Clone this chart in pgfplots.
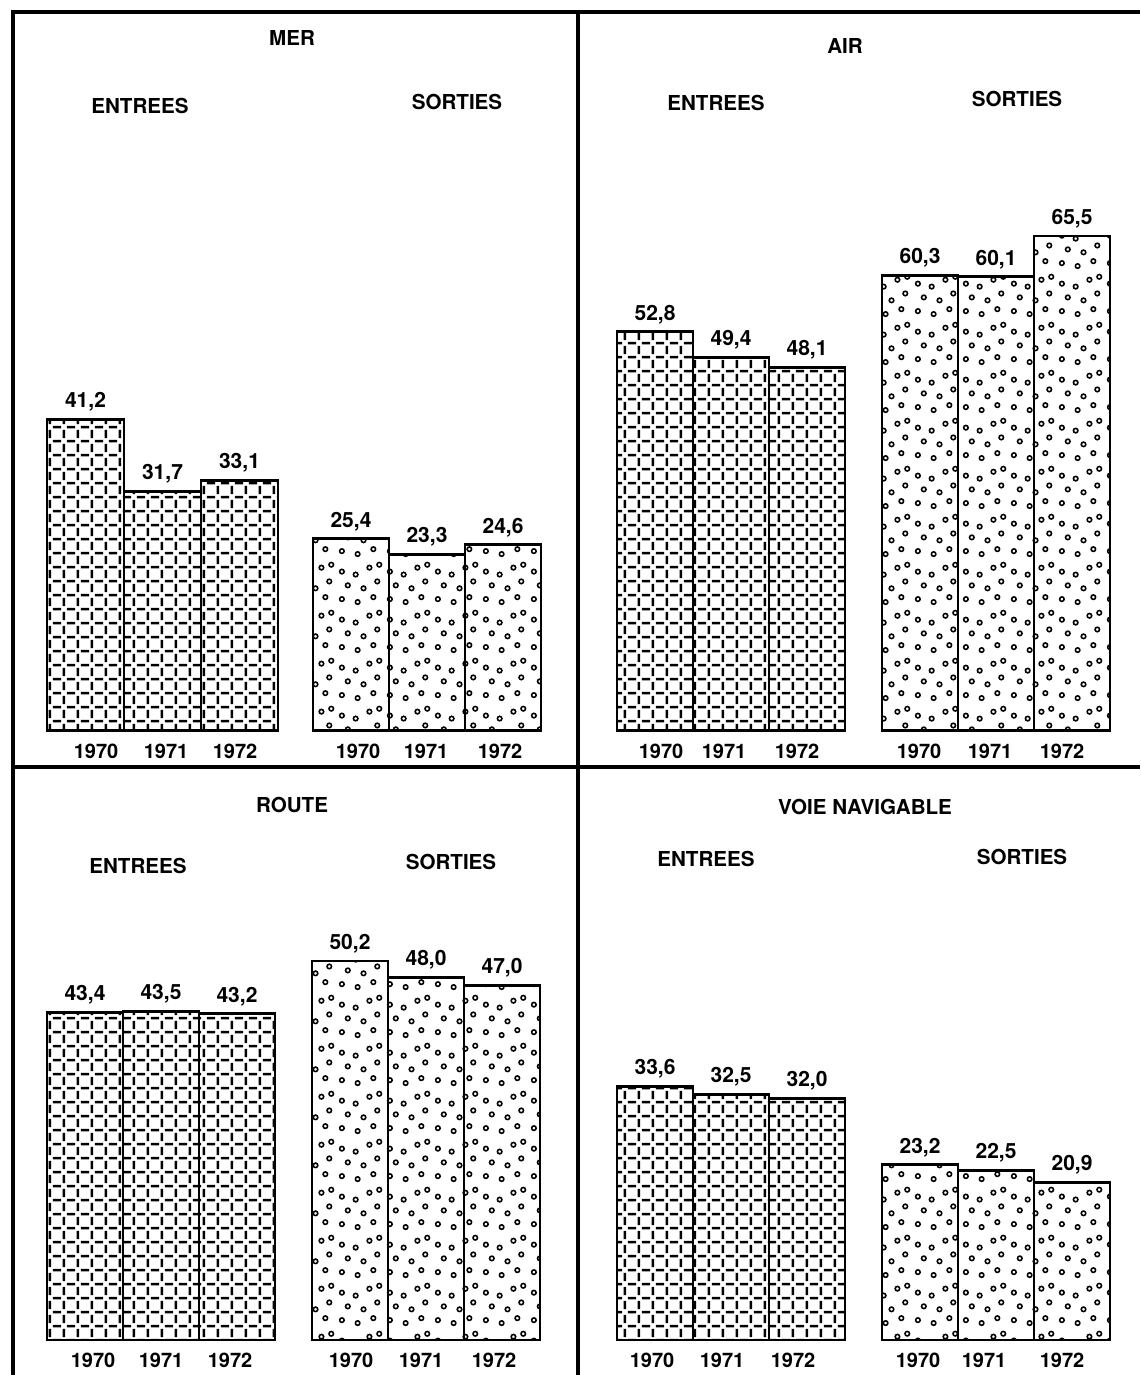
\documentclass[border=0pt]{standalone}
\usepackage{fontspec}
\setmainfont{TeX Gyre Heros}
\usepackage{pgfplots}
\pgfplotsset{compat=1.18}
\usetikzlibrary{patterns}

\pgfdeclarepatternformonly{dashgrid}{\pgfpointorigin}{\pgfpoint{7.2pt}{7.2pt}}{\pgfpoint{7.2pt}{7.2pt}}{%
  \pgfsetlinewidth{1.35pt}%
  \pgfpathmoveto{\pgfpoint{0pt}{3.6pt}}\pgfpathlineto{\pgfpoint{2.1pt}{3.6pt}}%
  \pgfpathmoveto{\pgfpoint{5.1pt}{3.6pt}}\pgfpathlineto{\pgfpoint{7.2pt}{3.6pt}}%
  \pgfpathmoveto{\pgfpoint{3.6pt}{0pt}}\pgfpathlineto{\pgfpoint{3.6pt}{2.1pt}}%
  \pgfpathmoveto{\pgfpoint{3.6pt}{5.1pt}}\pgfpathlineto{\pgfpoint{3.6pt}{7.2pt}}%
  \pgfusepath{stroke}%
}

\pgfdeclarepatternformonly{rings}{\pgfpointorigin}{\pgfpoint{24pt}{24pt}}{\pgfpoint{24pt}{24pt}}{%
  \pgfsetlinewidth{0.8pt}%
  \pgfpathcircle{\pgfpoint{3pt}{4pt}}{1.15pt}%
  \pgfpathcircle{\pgfpoint{11pt}{2.5pt}}{1.15pt}%
  \pgfpathcircle{\pgfpoint{19pt}{5pt}}{1.15pt}%
  \pgfpathcircle{\pgfpoint{6pt}{11pt}}{1.15pt}%
  \pgfpathcircle{\pgfpoint{14pt}{9.5pt}}{1.15pt}%
  \pgfpathcircle{\pgfpoint{21pt}{13pt}}{1.15pt}%
  \pgfpathcircle{\pgfpoint{3pt}{18pt}}{1.15pt}%
  \pgfpathcircle{\pgfpoint{10pt}{16.5pt}}{1.15pt}%
  \pgfpathcircle{\pgfpoint{17pt}{20pt}}{1.15pt}%
  \pgfpathcircle{\pgfpoint{22pt}{21.5pt}}{1.15pt}%
  \pgfusepath{stroke}%
}

\pgfplotsset{
  panel/.style={
    x=0.5pt, y=3.775pt,
    xmin=0, xmax=1140, ymin=0, ymax=80,
    anchor=south west, clip=false,
    axis line style={draw=none},
    major tick length=0pt,
    ytick=\empty,
    xticklabel style={font=\fontsize{10}{12}\selectfont\bfseries, yshift=-3pt},
    /pgf/number format/.cd, fixed, fixed zerofill, precision=1, use comma, assume math mode=true,
    /pgfplots/.cd,
    every node near coord/.append style={font=\fontsize{10.5}{12}\selectfont\bfseries},
  },
  ent/.style={ybar, bar shift=0pt, bar width=76, draw=black, line width=1.4pt, pattern=dashgrid, nodes near coords},
  sor/.style={ybar, bar shift=0pt, bar width=76, draw=black, line width=1.4pt, pattern=rings, nodes near coords},
}

\begin{document}
\begin{tikzpicture}
\useasboundingbox (0,0) rectangle (570pt,-687.5pt);

% frame
\draw[line width=1.8pt] (570pt,-6pt) -- (6.5pt,-6pt) -- (6.5pt,-687.5pt);
\draw[line width=1.8pt] (289pt,-6pt) -- (289pt,-687.5pt);
\draw[line width=1.8pt] (6.5pt,-383.5pt) -- (570pt,-383.5pt);

% titles and group labels
\begin{scope}[every node/.style={font=\fontsize{10.3}{12}\selectfont\bfseries, inner sep=0pt}]
\node at (146pt,-19pt) {MER};
\node at (422.5pt,-23pt) {AIR};
\node at (70pt,-53pt) {ENTREES};
\node at (228.5pt,-51pt) {SORTIES};
\node at (358pt,-51.5pt) {ENTREES};
\node at (508.5pt,-49.5pt) {SORTIES};
\node at (146pt,-402.5pt) {ROUTE};
\node at (432.5pt,-403.5pt) {VOIE NAVIGABLE};
\node at (69pt,-433pt) {ENTREES};
\node at (225.5pt,-431pt) {SORTIES};
\node at (353pt,-429.5pt) {ENTREES};
\node at (511pt,-428.5pt) {SORTIES};
\end{scope}

% top row
\begin{axis}[panel, at={(0pt,-365.25pt)},
  xtick={96,166,235,358,426,500,661,724,797,919,990,1062},
  xticklabels={1970,1971,1972,1970,1971,1972,1970,1971,1972,1970,1971,1972}]
\addplot[ent, bar width=77] coordinates {(85.5,41.2) (162.5,31.7) (239.5,33.1)};
\addplot[sor] coordinates {(351,25.4) (427,23.3) (503,24.6)};
\addplot[ent] coordinates {(655,52.8) (731,49.4) (807,48.1)};
\addplot[sor] coordinates {(920,60.3) (996,60.1) (1072,65.5)};
\end{axis}

% bottom row
\begin{axis}[panel, at={(0pt,-670pt)},
  xtick={93,161,230,351,421,494,652,722,793,918,984,1062},
  xticklabels={1970,1971,1972,1970,1971,1972,1970,1971,1972,1970,1971,1972}]
\addplot[ent] coordinates {(85,43.4) (161,43.5) (237,43.2)};
\addplot[sor] coordinates {(350,50.2) (426,48.0) (502,47.0)};
\addplot[ent] coordinates {(655,33.6) (731,32.5) (807,32.0)};
\addplot[sor] coordinates {(920,23.2) (996,22.5) (1072,20.9)};
\end{axis}
\end{tikzpicture}
\end{document}
